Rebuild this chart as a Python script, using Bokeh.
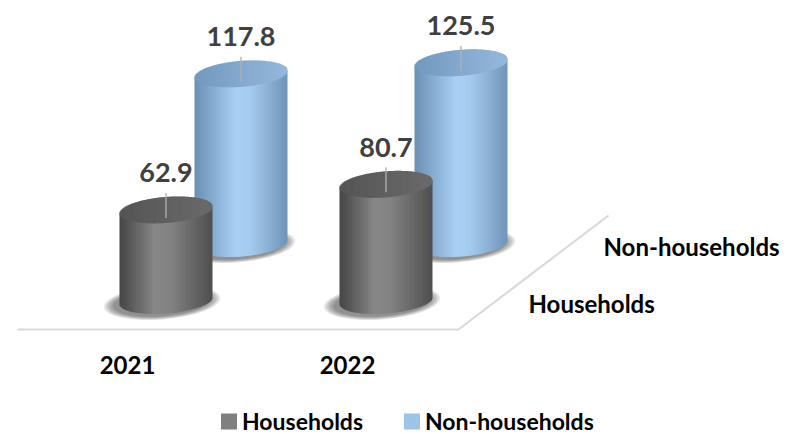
import numpy as np
from bokeh.plotting import figure
from bokeh.models import Range1d
from bokeh.embed import file_html
from bokeh.resources import INLINE
from bokeh.core.properties import value

# ---------------- data ----------------
years = ["2021", "2022"]
series = ["Households", "Non-households"]
households = [62.9, 80.7]
non_households = [117.8, 125.5]
values = [households, non_households]

# ---------------- layout (page pixels) ----------------
W, H = 786, 434
PX_PER_UNIT = 1.44
X0, Y0 = 165.5, 300.0        # base centre of first front cylinder
CAT_STEP = 220.0
DEPTH_DX, DEPTH_DY = 75.0, -57.0
R, B = 46.5, 13.0
SHEAR = -0.075               # tilt of the ellipses (right side higher)
FONT = value("Lato")

def X(px):
    return px

def Y(py):
    return H - py

p = figure(width=W, height=H, x_range=Range1d(0, W), y_range=Range1d(0, H),
           output_backend="svg", toolbar_location=None,
           x_axis_type=None, y_axis_type=None, min_border=0)
p.outline_line_color = None
p.xgrid.visible = False
p.ygrid.visible = False
p.background_fill_color = "white"
p.border_fill_color = "white"

def lerp_color(stops, t):
    for (t0, c0), (t1, c1) in zip(stops[:-1], stops[1:]):
        if t0 <= t <= t1:
            f = (t - t0) / (t1 - t0) if t1 > t0 else 0
            a = [int(c0[i:i + 2], 16) for i in (1, 3, 5)]
            b = [int(c1[i:i + 2], 16) for i in (1, 3, 5)]
            c = [round(a[k] + (b[k] - a[k]) * f) for k in range(3)]
            return "#%02x%02x%02x" % tuple(c)
    return stops[-1][1]

side_stops = {
    0: [(0, "#454545"), (0.38, "#878787"), (0.55, "#828282"), (1, "#4f4f4f")],
    1: [(0, "#6a8fb3"), (0.45, "#a9d1f5"), (0.6, "#a4cbee"), (1, "#6f94b8")],
}
top_stops = {
    0: [(0, "#545454"), (0.5, "#606060"), (1, "#6a6a6a")],
    1: [(0, "#7398bd"), (0.5, "#84a9ce"), (1, "#93b8db")],
}
legend_colors = ["#7f7f7f", "#9dc3e6"]

# ---------------- floor ----------------
n_cat = len(years)
fl_left = X0 - R - 102
fl_right = X0 + (n_cat - 1) * CAT_STEP + R + 26
fl_y = Y0 + 29
p.line([X(fl_left), X(fl_right), X(fl_right + 2 * DEPTH_DX)],
       [Y(fl_y), Y(fl_y), Y(fl_y + 2 * DEPTH_DY)],
       line_color="#d9d9d9", line_width=2)

# ---------------- cylinders (back row first) ----------------
N = int(round(2 * R))
us = np.linspace(-R, R, N + 1)
step = us[1] - us[0]
for s in [1, 0]:
    for i, v in enumerate(values[s]):
        cx = X0 + i * CAT_STEP + s * DEPTH_DX
        by = Y0 + s * DEPTH_DY
        ty = by - v * PX_PER_UNIT
        # soft shadow around the base
        for k in range(7):
            p.ellipse(x=[X(cx - 4)], y=[Y(by + 2)],
                      width=2 * R + 24 - 3.3 * k, height=2 * B + 8 - 1.1 * k,
                      angle=0.08, fill_color="#202020", fill_alpha=0.09,
                      line_color=None)
        lefts, rights, bots, tops, cols = [], [], [], [], []
        tb, tt, tc = [], [], []
        for j in range(N):
            u0 = us[j]
            um = u0 + step / 2
            h = B * np.sqrt(max(0.0, 1 - (um / R) ** 2))
            t = (um + R) / (2 * R)
            lefts.append(X(cx + u0))
            rights.append(X(cx + u0 + step + (0.5 if j < N - 1 else 0)))
            bots.append(Y(by + SHEAR * um + h))
            tops.append(Y(ty + SHEAR * um))
            cols.append(lerp_color(side_stops[s], t))
            tb.append(Y(ty + SHEAR * um + h))
            tt.append(Y(ty + SHEAR * um - h))
            tc.append(lerp_color(top_stops[s], t))
        p.quad(left=lefts, right=rights, bottom=bots, top=tops,
               fill_color=cols, line_color=None)
        p.quad(left=lefts, right=rights, bottom=tb, top=tt,
               fill_color=tc, line_color=None)
        # leader line and value label
        p.segment(x0=[X(cx)], y0=[Y(ty + 8)], x1=[X(cx)], y1=[Y(ty - 17)],
                  line_color="#b0b0b0", line_width=1.3)
        p.text(x=[X(cx)], y=[Y(ty - 37)], text=["%.1f" % v],
               text_font=FONT, text_font_style="bold", text_font_size="27px",
               text_color="#404040", text_align="center", text_baseline="middle")

# ---------------- category labels ----------------
p.text(x=[X(X0 - 38.5 + i * CAT_STEP) for i in range(n_cat)],
       y=[Y(Y0 + 64)] * n_cat, text=years,
       text_font=FONT, text_font_style="bold", text_font_size="24px",
       text_color="black", text_align="center", text_baseline="middle")

# ---------------- depth (series) labels ----------------
p.text(x=[X(fl_right + 70 + s * DEPTH_DX) for s in range(len(series))],
       y=[Y(Y0 + 3 + s * DEPTH_DY) for s in range(len(series))],
       text=series, text_font=FONT, text_font_style="bold", text_font_size="24px",
       text_color="black", text_align="left", text_baseline="middle")

# ---------------- legend ----------------
leg_x = [228.5, 411.5]
leg_y = 420
p.rect(x=[X(x) for x in leg_x], y=[Y(leg_y + 1)] * 2, width=16, height=16,
       fill_color=legend_colors, line_color=None)
p.text(x=[X(x + 13) for x in leg_x], y=[Y(leg_y)] * 2, text=series,
       text_font=FONT, text_font_style="bold", text_font_size="23px",
       text_color="black", text_align="left", text_baseline="middle")

open("out.html", "w").write(file_html(p, INLINE))
